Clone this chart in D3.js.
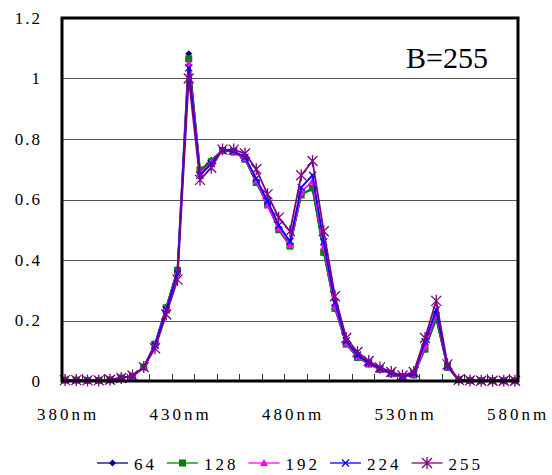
<!DOCTYPE html>
<html>
<head>
<meta charset="UTF-8">
<title>B=255 spectrum</title>
<script src="https://cdn.jsdelivr.net/npm/d3@7"></script>
<style>
  body { margin: 0; background: #fff; }
  svg text { font-family: "Liberation Serif", serif; fill: #000; }
</style>
</head>
<body>
<script>
// wavelengths, 5nm steps
var wavelengths = d3.range(380, 581, 5);
var xLabels = [380, 430, 480, 530, 580];
var yTicks = [0, 0.2, 0.4, 0.6, 0.8, 1, 1.2];
var seriesNames = ["64", "128", "192", "224", "255"];

var s64  = [0.003,0.003,0.002,0.002,0.004,0.010,0.016,0.045,0.122,0.243,0.368,1.082,0.695,0.730,0.762,0.758,0.735,0.658,0.585,0.502,0.447,0.617,0.636,0.428,0.240,0.122,0.078,0.056,0.038,0.024,0.013,0.020,0.108,0.206,0.045,0.004,0.002,0.001,0.001,0.001,0.001];
var s128 = [0.003,0.003,0.002,0.002,0.004,0.010,0.016,0.046,0.122,0.242,0.366,1.065,0.698,0.725,0.762,0.757,0.733,0.656,0.583,0.500,0.446,0.615,0.638,0.425,0.240,0.122,0.078,0.056,0.038,0.024,0.013,0.020,0.105,0.207,0.045,0.004,0.002,0.001,0.001,0.001,0.001];
var s192 = [0.003,0.003,0.002,0.002,0.004,0.010,0.016,0.046,0.120,0.238,0.360,1.050,0.688,0.722,0.763,0.758,0.736,0.662,0.580,0.505,0.450,0.625,0.660,0.443,0.245,0.125,0.080,0.057,0.039,0.025,0.014,0.022,0.112,0.225,0.047,0.004,0.002,0.001,0.001,0.001,0.001];
var s224 = [0.003,0.003,0.002,0.002,0.004,0.010,0.016,0.046,0.118,0.235,0.355,1.035,0.680,0.718,0.763,0.760,0.740,0.670,0.595,0.515,0.462,0.640,0.680,0.460,0.260,0.132,0.086,0.060,0.041,0.027,0.015,0.025,0.130,0.235,0.050,0.004,0.002,0.001,0.001,0.001,0.001];
var s255 = [0.003,0.003,0.002,0.002,0.004,0.010,0.018,0.046,0.108,0.220,0.335,1.000,0.665,0.705,0.765,0.765,0.752,0.700,0.617,0.540,0.495,0.680,0.727,0.495,0.280,0.142,0.096,0.066,0.045,0.030,0.018,0.030,0.142,0.265,0.055,0.004,0.002,0.001,0.001,0.001,0.001];

var allSeries = [s64, s128, s192, s224, s255];
var colors = ["#000080", "#008000", "#ff00ff", "#0000ff", "#800080"];
var markers = ["diamond", "square", "triangle", "cross", "star"];

var width = 552, height = 475;
var frame = { left: 62, top: 18, right: 518, bottom: 381 };

var svg = d3.select("body").append("svg").attr("width", width).attr("height", height);

var x = d3.scaleLinear().domain([380, 580]).range([65, 515]);
var y = d3.scaleLinear().domain([0, 1.2]).range([frame.bottom, frame.top]);

// gridlines
svg.append("g").selectAll("line")
    .data(yTicks.filter(function(d) { return d > 0 && d < 1.2; }))
    .enter().append("line")
    .attr("x1", frame.left).attr("x2", frame.right)
    .attr("y1", function(d) { return Math.round(y(d)) + 0.5; })
    .attr("y2", function(d) { return Math.round(y(d)) + 0.5; })
    .attr("stroke", "#555").attr("stroke-width", 1);

// small ticks on the bottom, pointing up
svg.append("g").selectAll("line")
    .data(d3.range(387.5, 580, 10))
    .enter().append("line")
    .attr("x1", function(d) { return Math.round(x(d)) + 0.5; })
    .attr("x2", function(d) { return Math.round(x(d)) + 0.5; })
    .attr("y1", frame.bottom).attr("y2", frame.bottom - 7)
    .attr("stroke", "#333").attr("stroke-width", 1);

// y labels
svg.append("g").selectAll("text")
    .data(yTicks)
    .enter().append("text")
    .attr("x", 42)
    .attr("y", function(d) { return y(d); })
    .attr("dy", "0.35em")
    .attr("text-anchor", "end")
    .attr("font-family", "Liberation Serif")
    .style("font-size", "17px")
    .style("letter-spacing", "2px")
    .text(function(d) { return d3.format("~g")(d); });

// x labels
svg.append("g").selectAll("text")
    .data(xLabels)
    .enter().append("text")
    .attr("x", function(d) { return x(d) + 3; })
    .attr("y", 420)
    .attr("text-anchor", "middle")
    .attr("font-family", "Liberation Serif")
    .style("font-size", "17px")
    .style("letter-spacing", "3px")
    .text(function(d) { return d + "nm"; });

function drawMarker(g, type, color) {
    if (type == "diamond") {
        g.append("path").attr("d", "M0,-3.5L3.5,0L0,3.5L-3.5,0Z").attr("fill", color);
    } else if (type == "square") {
        g.append("rect").attr("x", -3.5).attr("y", -3.5).attr("width", 7).attr("height", 7).attr("fill", color);
    } else if (type == "triangle") {
        g.append("path").attr("d", "M0,-4L4,3L-4,3Z").attr("fill", color);
    } else if (type == "cross") {
        g.append("path").attr("d", "M-3.5,-3.5L3.5,3.5M3.5,-3.5L-3.5,3.5").attr("stroke", color).attr("stroke-width", 1.3);
    } else {
        g.append("path").attr("d", "M-5,-5L5,5M5,-5L-5,5M0,-6L0,6").attr("stroke", color).attr("stroke-width", 1.3);
    }
}

var line = d3.line()
    .x(function(d, i) { return x(wavelengths[i]); })
    .y(function(d) { return y(d); });

allSeries.forEach(function(vals, k) {
    svg.append("path")
        .datum(vals)
        .attr("d", line)
        .attr("fill", "none")
        .attr("stroke", colors[k])
        .attr("stroke-width", 1.8);
    svg.append("g").selectAll("g")
        .data(vals)
        .enter().append("g")
        .attr("transform", function(d, i) { return "translate(" + x(wavelengths[i]) + "," + y(d) + ")"; })
        .each(function() { drawMarker(d3.select(this), markers[k], colors[k]); });
});

// frame
svg.append("rect")
    .attr("x", frame.left).attr("y", frame.top)
    .attr("width", frame.right - frame.left).attr("height", frame.bottom - frame.top)
    .attr("fill", "none").attr("stroke", "#000").attr("stroke-width", 3);

svg.append("text")
    .attr("x", 406).attr("y", 68)
    .attr("font-family", "Liberation Serif")
    .style("font-size", "30px")
    .text("B=255");

// legend, centered under the plot
var legend = svg.append("g");
var lx = 0;
seriesNames.forEach(function(name, k) {
    var item = legend.append("g").attr("transform", "translate(" + lx + ",0)");
    item.append("line").attr("x1", 0).attr("x2", 31).attr("y1", 0).attr("y2", 0)
        .attr("stroke", colors[k]).attr("stroke-width", 1.8).attr("opacity", 0.7);
    drawMarker(item.append("g").attr("transform", "translate(15.5,0)"), markers[k], colors[k]);
    var t = item.append("text").attr("x", 37).attr("y", 6.5)
        .attr("font-family", "Liberation Serif")
        .style("font-size", "17px").style("letter-spacing", "3px").text(name);
    lx += 37 + t.node().getComputedTextLength() + 10;
});
var legendW = lx - 10;
legend.attr("transform", "translate(" + (290 - legendW / 2) + ",463)");
</script>
</body>
</html>
